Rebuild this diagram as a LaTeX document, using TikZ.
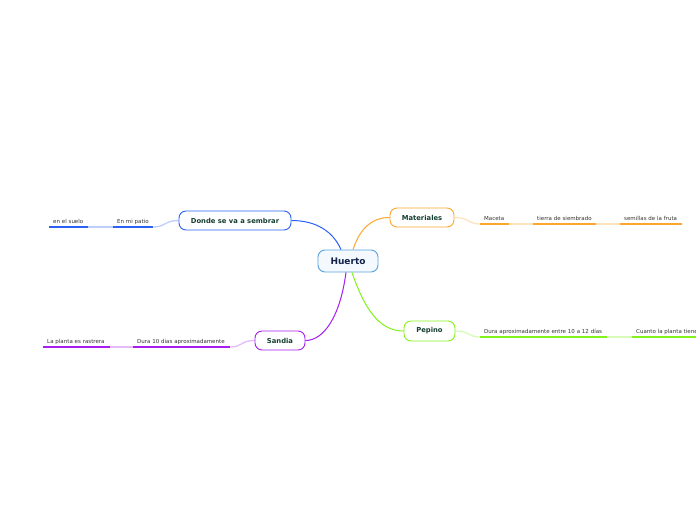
\documentclass[tikz,border=0pt]{standalone}
\usepackage{fontspec}
\setmainfont{DejaVu Sans}
\usetikzlibrary{calc}
\definecolor{cblue}{HTML}{2B62F5}
\definecolor{corange}{HTML}{FBA72E}
\definecolor{cgreen}{HTML}{84F21C}
\definecolor{cpurple}{HTML}{A61EF0}
\definecolor{chuerto}{HTML}{5AA2DA}
\definecolor{chuertofill}{HTML}{F3F9FE}
\definecolor{ctext}{HTML}{163F33}
\definecolor{cnavy}{HTML}{13234A}
\definecolor{csub}{HTML}{333333}
\begin{document}
\begin{tikzpicture}[x=1pt,y=-1pt]
\clip (0,0) rectangle (696,520);
\fill[white] (0,0) rectangle (696,520);
\tikzset{
 topic/.style={draw, rounded corners=7pt, line width=0.9pt, fill=white, font=\fontsize{6.8}{8}\selectfont\bfseries, text=ctext, inner sep=0pt, minimum height=19pt},
 sub/.style={anchor=south west, inner xsep=4pt, inner ysep=0pt, align=left, font=\fontsize{5.5}{6}\selectfont, text=csub, text height=4pt, text depth=3.5pt},
 uline/.style={line width=1.5pt},
 faint/.style={line width=1.3pt, opacity=0.3},
 conn/.style={line width=1pt},
}
% main topic
\node[topic, draw=chuerto, fill=chuertofill, minimum width=60pt, minimum height=22pt, font=\fontsize{9}{10}\selectfont\bfseries, text=cnavy] (huerto) at (348,261) {Huerto};
\node[topic, draw=corange, minimum width=64pt] (mat) at (422,217.5) {Materiales};
\node[topic, draw=cblue, minimum width=112pt] (donde) at (235,220.5) {Donde se va a sembrar};
\node[topic, draw=cgreen, minimum width=51pt, minimum height=20pt] (pep) at (429.5,331) {Pepino};
\node[topic, draw=cpurple, minimum width=50pt] (san) at (280,340.5) {Sandia};
% connectors
\draw[conn, cblue] ($(huerto.north)+(-7,0)$) .. controls +(-8,-18) and +(25,0) .. (donde.east);
\draw[conn, corange] ($(huerto.north)+(5,0)$) .. controls +(6,-18) and +(-20,0) .. (mat.west);
\draw[conn, cpurple] ($(huerto.south)+(-2,0)$) .. controls +(-6,45) and +(18,0) .. (san.east);
\draw[conn, cgreen] ($(huerto.south)+(4,0)$) .. controls +(12,35) and +(-25,0) .. (pep.west);
% Materiales subtopics
\node[sub, text width=21pt] (maceta) at (480,224) {Maceta};
\node[sub, text width=55pt] (tierra) at (533,224) {tierra de siembrado};
\node[sub, text width=54pt] (semillas) at (620,224) {semillas de la fruta};
\draw[faint, corange] (mat.east) .. controls +(15,0) and +(-12,0) .. (maceta.south west);
\draw[faint, corange] (maceta.south east) -- (tierra.south west);
\draw[faint, corange] (tierra.south east) -- (semillas.south west);
\foreach \n in {maceta,tierra,semillas} \draw[uline, corange] (\n.south west) -- (\n.south east);
% Donde subtopics
\node[sub, text width=32pt] (patio) at (113,227) {En mi patio};
\node[sub, text width=31pt] (suelo) at (49,227) {en el suelo};
\draw[faint, cblue] (donde.west) .. controls +(-14,0) and +(12,0) .. (patio.south east);
\draw[faint, cblue] (patio.south west) -- (suelo.south east);
\foreach \n in {patio,suelo} \draw[uline, cblue] (\n.south west) -- (\n.south east);
% Pepino subtopics
\node[sub, text width=119pt] (dura12) at (480,337) {Dura aproximadamente entre 10 a 12 días};
\node[sub, text width=70pt] (cuanto) at (632,337) {Cuanto la planta tiene};
\draw[faint, cgreen] (pep.east) .. controls +(14,0) and +(-12,0) .. (dura12.south west);
\draw[faint, cgreen] (dura12.south east) -- (cuanto.south west);
\foreach \n in {dura12,cuanto} \draw[uline, cgreen] (\n.south west) -- (\n.south east);
% Sandia subtopics
\node[sub, text width=89pt] (dura10) at (133,347) {Dura 10 dias aproximadamente};
\node[sub, text width=59pt] (rastrera) at (43,347) {La planta es rastrera};
\draw[faint, cpurple] (san.west) .. controls +(-14,0) and +(12,0) .. (dura10.south east);
\draw[faint, cpurple] (dura10.south west) -- (rastrera.south east);
\foreach \n in {dura10,rastrera} \draw[uline, cpurple] (\n.south west) -- (\n.south east);
\end{tikzpicture}
\end{document}
